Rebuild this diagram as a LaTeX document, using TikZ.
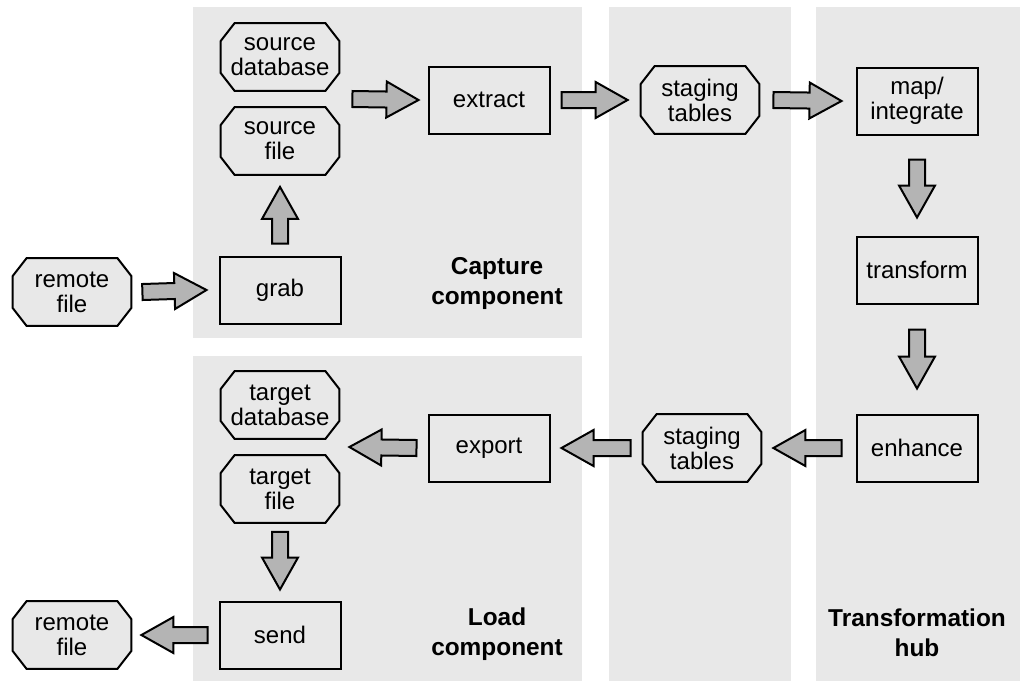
\documentclass[tikz,border=0pt]{standalone}
\usepackage{fontspec}
\setmainfont{Liberation Sans}
\usetikzlibrary{calc, backgrounds}
\definecolor{panelG}{RGB}{232,232,232}
\definecolor{arrowG}{RGB}{180,180,180}
\tikzset{
  txt/.style={font=\fontsize{12}{12.5}\selectfont, align=center},
  proc/.style={txt, draw, line width=1pt, minimum width=60.5pt, minimum height=33.5pt, inner sep=0pt},
  store/.style={txt, minimum width=59pt, minimum height=33.5pt, inner sep=0pt},
  octa/.style={draw, line width=1pt, fill=panelG, line join=miter},
  compname/.style={font=\fontsize{12.2}{15}\selectfont\bfseries, align=center},
  fatarrow/.style={draw=black, line width=1pt, fill=arrowG, line join=miter,
    to path={let \p1=(\tikztostart), \p2=(\tikztotarget), \p3=($(\p2)!16pt!(\p1)$) in
      ($(\p1)!4pt!90:(\p2)$) -- ($(\p3)!4pt!90:(\p2)$) -- ($(\p3)!9pt!90:(\p2)$) -- (\p2)
      -- ($(\p3)!9pt!-90:(\p2)$) -- ($(\p3)!4pt!-90:(\p2)$) -- ($(\p1)!4pt!-90:(\p2)$) -- cycle}}
}
\begin{document}
\begin{tikzpicture}[x=0.5pt, y=-0.5pt]
\useasboundingbox (0,0) rectangle (1020,681);
% ===== capture component =====
\node[store] (srcdb) at (280,57) {source\\database};
\node[store] (srcfile) at (280,141) {source\\file};
\node[proc] (grab) at (280,290) {grab};
\node[store] (rfilein) at (72,292) {remote\\file};
\node[proc] (extract) at (489,100) {extract};
\node[compname] (capname) at (497,284) {Capture\\component};
% ===== staging =====
\node[store] (stagein) at (700,100) {staging\\tables};
\node[store] (stageout) at (702,448) {staging\\tables};
% ===== transformation hub =====
\node[proc] (mapint) at (917,101) {map/\\integrate};
\node[proc] (transform) at (917,270) {transform};
\node[proc] (enhance) at (917,448) {enhance};
\node[compname] (hubname) at (917,633) {Transformation\\hub};
% ===== load component =====
\node[proc] (export) at (489,448) {export};
\node[store] (tgtdb) at (280,405) {target\\database};
\node[store] (tgtfile) at (280,489) {target\\file};
\node[proc] (send) at (280,635) {send};
\node[store] (rfileout) at (72,635) {remote\\file};
\node[compname] (loadname) at (497,634) {Load\\component};
% ===== grey panels and octagon outlines, behind the text =====
\begin{scope}[on background layer]
\fill[panelG] (193,7) rectangle (582,338);
\fill[panelG] (193,356) rectangle (582,681);
\fill[panelG] (609,7) rectangle (791,681);
\fill[panelG] (816,7) rectangle (1020,681);
\foreach \n in {srcdb, srcfile, rfilein, stagein, stageout, tgtdb, tgtfile, rfileout}
  \draw[octa] ($(\n.north west)+(7pt,0)$) -- ($(\n.north east)+(-7pt,0)$)
    -- ($(\n.north east)+(0,-9pt)$) -- ($(\n.south east)+(0,9pt)$)
    -- ($(\n.south east)+(-7pt,0)$) -- ($(\n.south west)+(7pt,0)$)
    -- ($(\n.south west)+(0,9pt)$) -- ($(\n.north west)+(0,-9pt)$) -- cycle;
\end{scope}
% ===== block arrows =====
\coordinate (srcmid) at ($(srcdb.east)!.5!(srcfile.east)$);
\coordinate (tgtmid) at ($(tgtdb.east)!.5!(tgtfile.east)$);
\draw[fatarrow] ([xshift=5.5pt]rfilein.east) to ([xshift=-6pt]grab.west);
\draw[fatarrow] ([yshift=6pt]grab.north) to ([yshift=-6pt]srcfile.south);
\draw[fatarrow] ([xshift=6.5pt]srcmid) to ([xshift=-4.5pt]extract.west);
\draw[fatarrow] ([xshift=5.5pt]extract.east) to ([xshift=-6.5pt]stagein.west);
\draw[fatarrow] ([xshift=7pt]stagein.east) to ([xshift=-7pt]mapint.west);
\draw[fatarrow] ([yshift=-12pt]mapint.south) to ([yshift=9pt]transform.north);
\draw[fatarrow] ([yshift=-12.5pt]transform.south) to ([yshift=12.5pt]enhance.north);
\draw[fatarrow] ([xshift=-7pt]enhance.west) to ([xshift=6pt]stageout.east);
\draw[fatarrow] ([xshift=-6pt]stageout.west) to ([xshift=5.5pt]export.east);
\draw[fatarrow] ([xshift=-5.5pt]export.west) to ([xshift=5pt]tgtmid);
\draw[fatarrow] ([yshift=-4.5pt]tgtfile.south) to ([yshift=5.5pt]send.north);
\draw[fatarrow] ([xshift=-5.5pt]send.west) to ([xshift=5pt]rfileout.east);
\end{tikzpicture}
\end{document}
